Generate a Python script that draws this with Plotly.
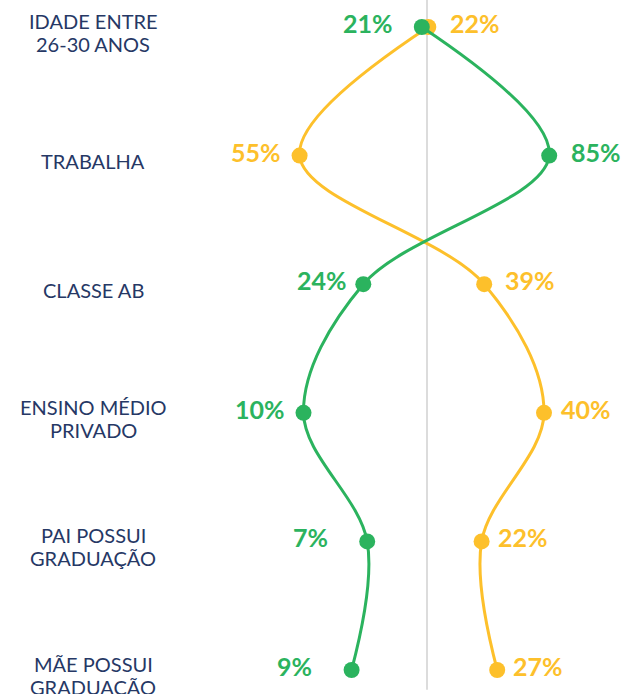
import plotly.graph_objects as go

# Perfil comparado de dois grupos
categorias = [
    "IDADE ENTRE<br>26-30 ANOS",
    "TRABALHA",
    "CLASSE AB",
    "ENSINO MÉDIO<br>PRIVADO",
    "PAI POSSUI<br>GRADUAÇÃO",
    "MÃE POSSUI<br>GRADUAÇÃO",
]

# Percentuais exibidos em cada ponto
pct_verde = [21, 85, 24, 10, 7, 9]
pct_amarelo = [22, 55, 39, 40, 22, 27]

# Desvio relativo ao eixo central (posição horizontal de cada ponto)
desvio_verde = [-0.04, 0.94, -0.49, -0.95, -0.46, -0.58]
desvio_amarelo = [0.01, -0.98, 0.44, 0.90, 0.42, 0.54]

VERDE = "#2bb35e"
AMARELO = "#fdc02b"
AZUL = "#263865"
FONTE = "Lato, 'Open Sans', sans-serif"

linhas = list(range(len(categorias)))

fig = go.Figure()

# linha central de referência
fig.add_shape(type="line", xref="x", yref="paper", x0=0, x1=0, y0=0.006, y1=1,
              line=dict(color="#dcdcdc", width=2), layer="below")

for desvio, cor in [(desvio_amarelo, AMARELO), (desvio_verde, VERDE)]:
    fig.add_trace(go.Scatter(
        x=desvio, y=linhas, mode="lines+markers",
        line=dict(color=cor, width=3, shape="spline", smoothing=1),
        marker=dict(color=cor, size=16),
        hoverinfo="skip", showlegend=False,
    ))

# distância (px) entre o centro do ponto e o rótulo
folga_verde = [27, 20, 14, 17, 37, 38]
folga_amarelo = [20, 17, 19, 15, 14, 14]

for desvio, pct, folga, cor in [
    (desvio_verde, pct_verde, folga_verde, VERDE),
    (desvio_amarelo, pct_amarelo, folga_amarelo, AMARELO),
]:
    for i, (d, p, f) in enumerate(zip(desvio, pct, folga)):
        direita = d > 0
        fig.add_annotation(
            x=d, y=i, xref="x", yref="y", text=f"<b>{p}%</b>", showarrow=False,
            xanchor="left" if direita else "right", yanchor="middle",
            xshift=f if direita else -f, yshift=4,
            font=dict(family=FONTE, size=25, color=cor),
        )

# rótulos das categorias, uma linha de texto por anotação
for i, cat in enumerate(categorias):
    partes = cat.split("<br>")
    if len(partes) == 1:
        deslocamentos = [-5.5]
    else:
        deslocamentos = [6.0, -17.0]
    for parte, dy in zip(partes, deslocamentos):
        fig.add_annotation(
            x=93 / 624, y=i, xref="paper", yref="y", text=parte, showarrow=False,
            xanchor="center", yanchor="middle", align="center", yshift=dy,
            font=dict(family=FONTE, size=20, color=AZUL),
        )

fig.update_layout(
    width=624, height=694,
    margin=dict(l=0, r=0, t=0, b=0),
    paper_bgcolor="white", plot_bgcolor="white",
    xaxis=dict(range=[-427 / 130, 197 / 130], visible=False, fixedrange=True),
    yaxis=dict(range=[(694 - 27) / 128.6, -27 / 128.6], visible=False, fixedrange=True),
)

fig.write_html("out.html")
